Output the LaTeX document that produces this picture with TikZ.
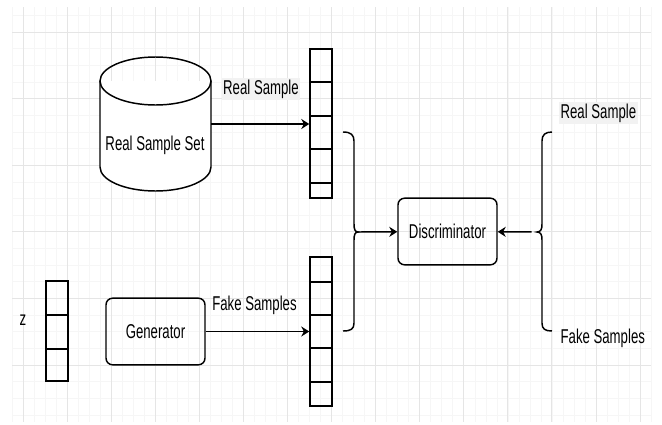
\documentclass[tikz,border=0pt]{standalone}
\usepackage{fontspec}
\setmainfont{Liberation Sans}[FakeStretch=0.66]
\usetikzlibrary{arrows.meta,positioning}

\tikzset{
  box/.style={draw, line width=1.1pt, rounded corners=5pt, minimum width=74.25pt, minimum height=50pt},
  cell/.style={draw, line width=1.1pt, minimum width=16.5pt, inner sep=0pt},
  lbl/.style={inner sep=1pt},
  arr/.style={line width=1.1pt, -{Stealth[length=6pt,width=7.5pt]}},
  brace/.style={line width=1.1pt}
}

\begin{document}
\begin{tikzpicture}[x=0.75pt, y=-0.75pt, every node/.style={font=\fontsize{15}{18}\selectfont}]
  \useasboundingbox[fill=white] (0,0) rectangle (662,425);

  \foreach \i in {0,...,58}
    \draw[gray!7, line width=0.5pt] ({12+11.02*\i},7) -- ({12+11.02*\i},422);
  \foreach \i in {0,...,24}
    \draw[gray!7, line width=0.5pt] (12,{15.35+16.65*\i}) -- (651,{15.35+16.65*\i});
  \foreach \i in {0,...,14}
    \draw[gray!20, line width=0.6pt] ({23+44.07*\i},7) -- ({23+44.07*\i},422);
  \foreach \i in {0,...,5}
    \draw[gray!20, line width=0.6pt] (12,{32+66.6*\i}) -- (651,{32+66.6*\i});

  \node[minimum width=83.25pt, minimum height=100.5pt] (set) at (155.5,124) {};
  \draw[line width=1.1pt, fill=white] (100,81) -- (100,167) arc[start angle=180, end angle=0, x radius=55.5, y radius=24] -- (211,81);
  \draw[line width=1.1pt] (155.5,81) ellipse [x radius=55.5, y radius=24];
  \node (settext) at (155,145) {Real Sample Set};

  \foreach \t/\b [count=\i] in {49/82,82/116,116/149,149/183,183/198}
    \node[cell, minimum height={(\b-\t)*0.75pt}] (r\i) at (321,{(\t+\b)/2}) {};
  \foreach \t/\b [count=\i] in {257/282,282/315,315/348,348/382,382/406}
    \node[cell, minimum height={(\b-\t)*0.75pt}] (f\i) at (321,{(\t+\b)/2}) {};
  \foreach \t/\b [count=\i] in {281/315,315/349,349/381}
    \node[cell, minimum height={(\b-\t)*0.75pt}] (z\i) at (57,{(\t+\b)/2}) {};

  \node (zlab) at (23,320) {z};
  \node[box] (gen) at (155.5,331.5) {Generator};
  \node[box] (disc) at (447.5,231.5) {Discriminator};

  \node[lbl, fill=gray!10] (reallab) at (261,89) {Real Sample};
  \node[lbl] (fakelab) at (254.5,305) {Fake Samples};
  \node[lbl, fill=gray!10, anchor=west] (realout) at (559,113) {Real Sample};
  \node[lbl, anchor=west] (fakeout) at (559,338) {Fake Samples};

  \coordinate (lb) at (358,232);
  \coordinate (rb) at (537,232);
  \draw[brace] (343,132) .. controls (351,132) and (354,135) .. (354,141) -- (354,224)
    .. controls (354,229) and (355,232) .. (lb) .. controls (355,232) and (354,235) .. (354,240)
    -- (354,323) .. controls (354,329) and (351,331) .. (343,331);
  \draw[brace] (552,132) .. controls (545,132) and (542,135) .. (542,141) -- (542,224)
    .. controls (542,229) and (541,232) .. (rb) .. controls (541,232) and (542,235) .. (542,240)
    -- (542,323) .. controls (542,329) and (545,331) .. (552,331);

  \draw[arr] (set.east) -- (set.east -| r3.west);
  \draw[arr] (gen) -- (f3);
  \draw[arr] (lb) -- (disc);
  \draw[arr, shorten <=4pt] (rb) -- (disc);
\end{tikzpicture}
\end{document}
